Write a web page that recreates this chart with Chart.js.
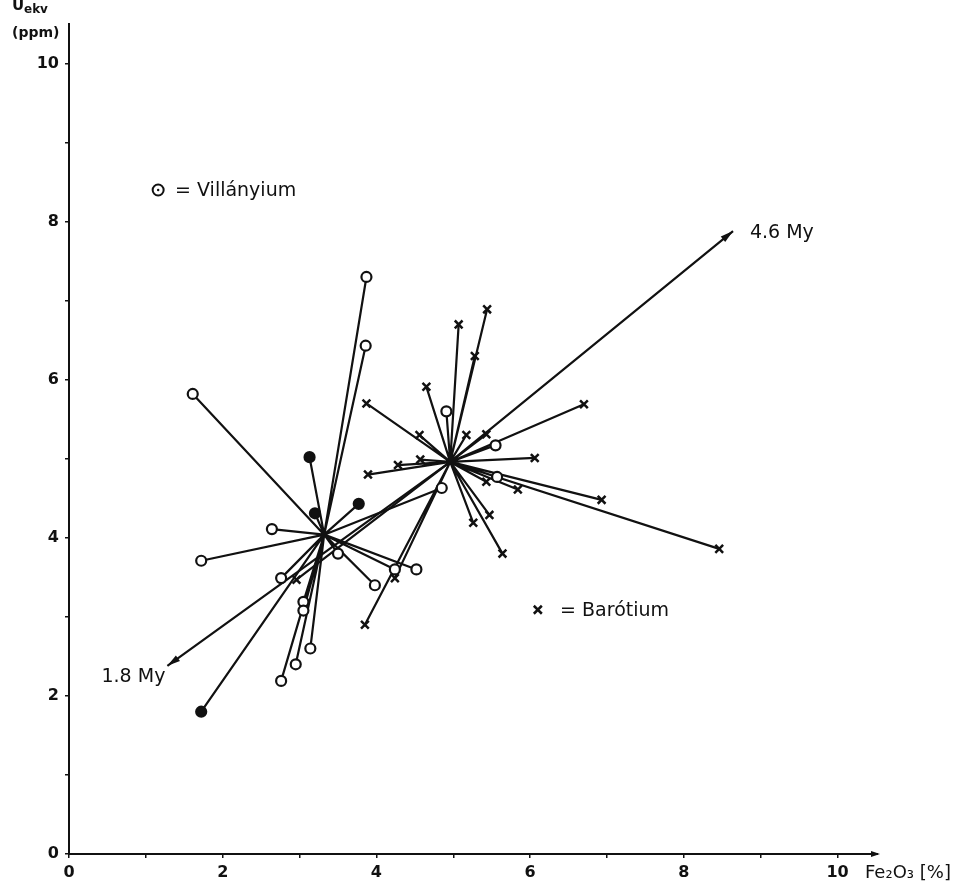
<!DOCTYPE html>
<html>
<head>
<meta charset="utf-8">
<script src="https://cdn.jsdelivr.net/npm/chart.js@4.4.0/dist/chart.umd.min.js"></script>
<style>
  html, body { margin: 0; padding: 0; background: #fff; }
</style>
</head>
<body>
<canvas id="grafico" width="959" height="886"></canvas>
<script>
// centres of the two groups (Fe2O3 %, Uekv ppm)
const centreV = [3.32, 4.04];
const centreB = [4.96, 4.96];

// Villányium samples, joined to the Villányium centre
const villX = [3.87, 3.86, 1.61, 3.13, 3.20, 3.77, 2.64, 1.72, 2.76, 3.50, 3.98, 4.52, 4.24, 3.05, 3.05, 3.14, 2.95, 2.76, 1.72, 4.85];
const villY = [7.30, 6.43, 5.82, 5.02, 4.31, 4.43, 4.11, 3.71, 3.49, 3.80, 3.40, 3.60, 3.60, 3.19, 3.08, 2.60, 2.40, 2.19, 1.80, 4.63];

// Villányium samples lying at the Barótium centre
const villNearX = [4.91, 5.55, 5.57];
const villNearY = [5.60, 5.17, 4.77];

// Barótium samples, joined to the Barótium centre
const baroX = [5.44, 5.07, 5.28, 4.65, 3.87, 4.56, 5.17, 5.43, 6.70, 6.06, 3.89, 4.28, 4.57, 5.43, 5.84, 6.93, 8.46, 5.47, 5.26, 5.64, 3.85, 4.24, 2.96];
const baroY = [6.89, 6.70, 6.30, 5.91, 5.70, 5.30, 5.30, 5.31, 5.69, 5.01, 4.80, 4.92, 4.99, 4.71, 4.61, 4.48, 3.86, 4.29, 4.19, 3.80, 2.90, 3.49, 3.47];

// age trend 1.8 My -> 4.6 My
const trendX = [1.28, 4.96, 8.64];
const trendY = [2.38, 4.96, 7.88];
const ageLabels = ['1.8 My', '4.6 My'];

const xTitle = 'Fe₂O₃ [%]';
const legendV = '= Villányium';
const legendB = '= Barótium';

// --- styles ---
const ink = '#111';
const face = '"DejaVu Sans", sans-serif';
const solidVill = [3, 4, 5, 18];

function spokes(cx, cy, xs, ys) {
    let out = [];
    xs.forEach((v, i) => {
        out.push({x: cx, y: cy});
        out.push({x: v, y: ys[i]});
        out.push({x: cx, y: null});
    });
    return out;
}

function arrowHead(ctx, x0, y0, x1, y1, len, half) {
    const a = Math.atan2(y1 - y0, x1 - x0);
    ctx.beginPath();
    ctx.moveTo(x1, y1);
    ctx.lineTo(x1 - len * Math.cos(a) + half * Math.sin(a), y1 - len * Math.sin(a) - half * Math.cos(a));
    ctx.lineTo(x1 - len * Math.cos(a) - half * Math.sin(a), y1 - len * Math.sin(a) + half * Math.cos(a));
    ctx.closePath();
    ctx.fill();
}

// texts, arrow heads
const notes = {
    id: 'notes',
    afterDraw(chart) {
        const {ctx, chartArea, scales: {x, y}} = chart;
        ctx.save();
        ctx.fillStyle = ink;
        ctx.strokeStyle = ink;

        const n = trendX.length - 1;
        arrowHead(ctx, x.getPixelForValue(trendX[1]), y.getPixelForValue(trendY[1]),
            x.getPixelForValue(trendX[0]), y.getPixelForValue(trendY[0]), 13, 3.5);
        arrowHead(ctx, x.getPixelForValue(trendX[n - 1]), y.getPixelForValue(trendY[n - 1]),
            x.getPixelForValue(trendX[n]), y.getPixelForValue(trendY[n]), 13, 3.5);

        // arrow on the x axis
        ctx.lineWidth = 2;
        ctx.beginPath();
        ctx.moveTo(chartArea.right, chartArea.bottom);
        ctx.lineTo(chartArea.right + 2, chartArea.bottom);
        ctx.stroke();
        arrowHead(ctx, chartArea.right - 10, chartArea.bottom, chartArea.right + 4, chartArea.bottom, 9, 3);

        ctx.textBaseline = 'middle';
        ctx.font = '19px ' + face;
        ctx.textAlign = 'right';
        ctx.fillText(ageLabels[0], x.getPixelForValue(trendX[0]) - 2, y.getPixelForValue(2.24));
        ctx.textAlign = 'left';
        ctx.fillText(ageLabels[1], x.getPixelForValue(8.86), y.getPixelForValue(7.86));

        // key
        ctx.font = '19px ' + face;
        const kx = x.getPixelForValue(1.16), ky = y.getPixelForValue(8.40);
        ctx.lineWidth = 2;
        ctx.beginPath();
        ctx.arc(kx, ky, 5.5, 0, Math.PI * 2);
        ctx.stroke();
        ctx.beginPath();
        ctx.arc(kx, ky, 1.2, 0, Math.PI * 2);
        ctx.fill();
        ctx.fillText(legendV, x.getPixelForValue(1.38), ky + 1);

        const bx = x.getPixelForValue(6.10), by = y.getPixelForValue(3.09);
        ctx.lineWidth = 2.5;
        ctx.beginPath();
        ctx.moveTo(bx - 4, by - 4); ctx.lineTo(bx + 4, by + 4);
        ctx.moveTo(bx + 4, by - 4); ctx.lineTo(bx - 4, by + 4);
        ctx.stroke();
        ctx.fillText(legendB, x.getPixelForValue(6.39), by + 1);

        // axis titles
        ctx.font = '18px ' + face;
        ctx.fillText(xTitle, chartArea.right - 11, chartArea.bottom + 19);
        ctx.font = 'bold 15px ' + face;
        ctx.textAlign = 'left';
        ctx.fillText('U', 12, 6);
        ctx.font = 'bold 12px ' + face;
        ctx.fillText('ekv', 24, 10);
        ctx.font = 'bold 14px ' + face;
        ctx.fillText('(ppm)', 12, 33);
        ctx.restore();
    }
};

const ctx = document.querySelector('#grafico').getContext('2d');
const chart = new Chart(ctx, {
    type: 'scatter',
    data: {
        datasets: [
            {
                label: 'Villányium',
                data: villX.concat(villNearX).map((v, i) => ({x: v, y: villY.concat(villNearY)[i]})),
                pointStyle: 'circle',
                pointRadius: 5,
                pointBorderWidth: 2.2,
                pointBorderColor: ink,
                pointBackgroundColor: villX.concat(villNearX).map((v, i) => solidVill.includes(i) ? ink : '#fff'),
                showLine: false,
                order: 0
            },
            {
                label: 'Barótium',
                data: baroX.map((v, i) => ({x: v, y: baroY[i]})),
                pointStyle: 'crossRot',
                pointRadius: 5.5,
                pointBorderWidth: 2.5,
                pointBorderColor: ink,
                showLine: false,
                order: 0
            },
            {
                label: 'spokes V',
                data: spokes(centreV[0], centreV[1], villX, villY),
                showLine: true,
                spanGaps: false,
                borderColor: ink,
                borderWidth: 2.2,
                pointRadius: 0,
                order: 1
            },
            {
                label: 'spokes B',
                data: spokes(centreB[0], centreB[1], baroX.concat(villNearX), baroY.concat(villNearY)),
                showLine: true,
                spanGaps: false,
                borderColor: ink,
                borderWidth: 2.2,
                pointRadius: 0,
                order: 1
            },
            {
                label: 'trend',
                data: trendX.map((v, i) => ({x: v, y: trendY[i]})),
                showLine: true,
                borderColor: ink,
                borderWidth: 2.2,
                pointRadius: 0,
                order: 1
            }
        ]
    },
    options: {
        responsive: false,
        animation: false,
        devicePixelRatio: 1,
        layout: { padding: { top: 24, right: 83, left: 0, bottom: 0 } },
        plugins: { legend: { display: false }, tooltip: { enabled: false } },
        scales: {
            x: {
                type: 'linear', min: 0, max: 10.5,
                ticks: {
                    stepSize: 1, includeBounds: false, maxRotation: 0, autoSkip: false,
                    color: ink, font: { family: face, size: 16, weight: 'bold' }, padding: 5,
                    callback: v => v % 2 === 0 ? v : ''
                },
                grid: { display: true, drawOnChartArea: false, drawTicks: true, tickLength: 4, color: ink, lineWidth: 1.5 },
                border: { display: true, color: ink, width: 2 },
                afterFit(s) { s.height = 32; }
            },
            y: {
                type: 'linear', min: 0, max: 10.5,
                ticks: {
                    stepSize: 1, includeBounds: false, autoSkip: false,
                    color: ink, font: { family: face, size: 16, weight: 'bold' }, padding: 6,
                    callback: v => v % 2 === 0 ? v : ''
                },
                grid: { display: true, drawOnChartArea: false, drawTicks: true, tickLength: 4, color: ink, lineWidth: 1.5 },
                border: { display: true, color: ink, width: 2 },
                afterFit(s) { s.width = 69; }
            }
        }
    },
    plugins: [notes]
});
</script>
</body>
</html>
